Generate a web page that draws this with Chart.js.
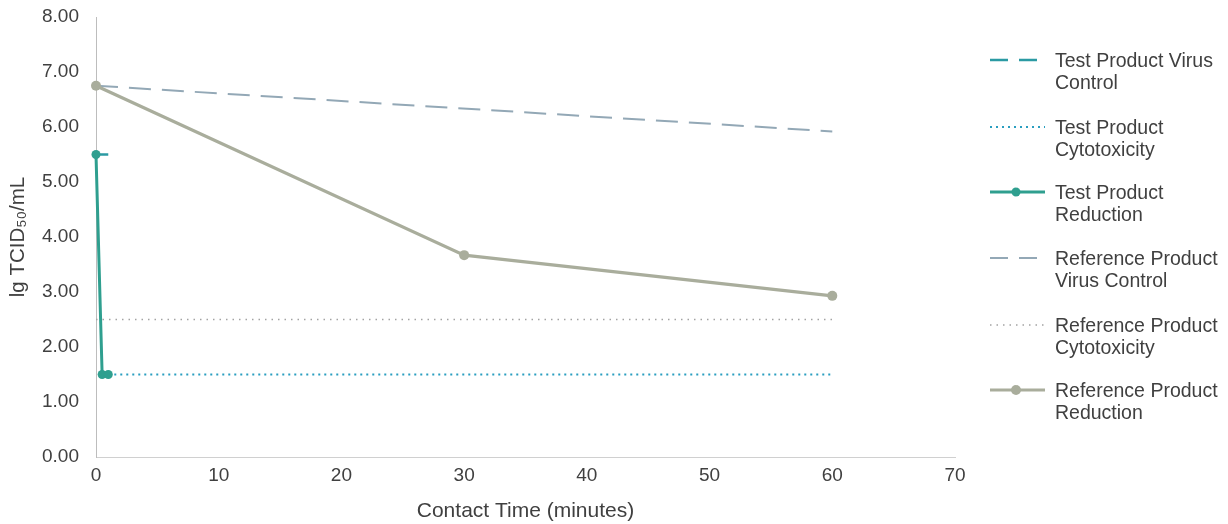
<!DOCTYPE html>
<html>
<head>
<meta charset="utf-8">
<script src="https://cdn.jsdelivr.net/npm/chart.js@4/dist/chart.umd.min.js"></script>
<style>
  html, body { margin: 0; padding: 0; background: #ffffff; }
  #wrap { position: relative; width: 1228px; height: 524px; overflow: hidden; }
  #chart { position: absolute; left: 0; top: 0; }
  #legend { position: absolute; left: 0; top: 0; width: 1228px; height: 524px; pointer-events: none;
            font-family: "Liberation Sans", Arial, sans-serif; font-size: 19.5px; color: #404040; }
  .item { position: absolute; left: 988px; width: 240px; }
  .item svg { position: absolute; left: 0; top: 0; }
  .item .txt { position: absolute; left: 67px; top: -11px; line-height: 22px; white-space: nowrap; }
</style>
</head>
<body>
<div id="wrap">
  <canvas id="chart" width="1228" height="524"></canvas>
  <div id="legend"></div>
</div>
<script>
// ---- data ----
const xTickLabels = ['0', '10', '20', '30', '40', '50', '60', '70'];
const yTickLabels = ['0.00', '1.00', '2.00', '3.00', '4.00', '5.00', '6.00', '7.00', '8.00'];

const seriesNames = [
  'Test Product Virus Control',
  'Test Product Cytotoxicity',
  'Test Product Reduction',
  'Reference Product Virus Control',
  'Reference Product Cytotoxicity',
  'Reference Product Reduction'
];

const testVirusControlTimes = [0, 1];
const testVirusControlValues = [5.50, 5.50];

const testCytotoxicityTimes = [1, 60];
const testCytotoxicityValues = [1.50, 1.50];

const testReductionTimes = [0, 0.5, 1];
const testReductionValues = [5.50, 1.50, 1.50];

const refVirusControlTimes = [0, 60];
const refVirusControlValues = [6.75, 5.92];

const refCytotoxicityTimes = [0, 60];
const refCytotoxicityValues = [2.50, 2.50];

const refReductionTimes = [0, 30, 60];
const refReductionValues = [6.75, 3.67, 2.93];

// ---- styles ----
const COL_TEST = '#2f9f8f';
const COL_TEST_VC = '#2b9aa3';
const COL_TEST_CYTO = '#2a9ec0';
const COL_REF_VC = '#93a8b6';
const COL_REF_CYTO = '#a3a3a3';
const COL_REF = '#a9ad9c';

function pts(xs, ys) { return xs.map((x, i) => ({ x: x, y: ys[i] })); }

const datasets = [
  { label: seriesNames[0], data: pts(testVirusControlTimes, testVirusControlValues),
    borderColor: COL_TEST_VC, borderWidth: 2.5, borderDash: [22, 11], pointRadius: 0, order: 2 },
  { label: seriesNames[1], data: pts(testCytotoxicityTimes, testCytotoxicityValues),
    borderColor: COL_TEST_CYTO, borderWidth: 2.2, borderDash: [2, 4], pointRadius: 0, order: 3 },
  { label: seriesNames[2], data: pts(testReductionTimes, testReductionValues),
    borderColor: COL_TEST, backgroundColor: COL_TEST, borderWidth: 3, pointRadius: 4.5,
    pointBorderWidth: 0, pointBackgroundColor: COL_TEST, order: 1 },
  { label: seriesNames[3], data: pts(refVirusControlTimes, refVirusControlValues),
    borderColor: COL_REF_VC, borderWidth: 2, borderDash: [22, 11], pointRadius: 0, order: 5 },
  { label: seriesNames[4], data: pts(refCytotoxicityTimes, refCytotoxicityValues),
    borderColor: COL_REF_CYTO, borderWidth: 1.5, borderDash: [1.5, 5], pointRadius: 0, order: 6 },
  { label: seriesNames[5], data: pts(refReductionTimes, refReductionValues),
    borderColor: COL_REF, backgroundColor: COL_REF, borderWidth: 3.2, pointRadius: 5,
    pointBorderWidth: 0, pointBackgroundColor: COL_REF, order: 4 }
];
datasets.forEach(d => { d.clip = false; });

const ctx = document.getElementById('chart').getContext('2d');
new Chart(ctx, {
  type: 'line',
  data: { datasets: datasets },
  options: {
    responsive: false,
    animation: false,
    layout: { padding: { left: 4, right: 273, top: 17, bottom: 0 } },
    plugins: { legend: { display: false }, tooltip: { enabled: false } },
    elements: { line: { tension: 0, fill: false } },
    scales: {
      x: {
        type: 'linear', min: 0, max: 70,
        afterBuildTicks: (s) => { s.ticks = xTickLabels.map(v => ({ value: Number(v) })); },
        ticks: { stepSize: 10, padding: 7, color: '#404040',
                 font: { family: 'Liberation Sans', size: 19 },
                 callback: (v) => xTickLabels[xTickLabels.indexOf(String(v))] ?? '' },
        grid: { display: false, drawTicks: false },
        border: { display: true, color: '#d0d0d0', width: 1, dash: [2, 2] },
        title: { display: true, text: 'Contact Time (minutes)', color: '#404040',
                 font: { family: 'Liberation Sans', size: 21 }, padding: { top: 1, bottom: 0 } },
        afterFit: (s) => { s.height = 67; s.paddingLeft = 0; s.paddingRight = 0; }
      },
      y: {
        type: 'linear', min: 0, max: 8,
        afterBuildTicks: (s) => { s.ticks = yTickLabels.map(v => ({ value: Number(v) })); },
        ticks: { stepSize: 1, padding: 17, color: '#404040',
                 font: { family: 'Liberation Sans', size: 19 },
                 callback: (v) => yTickLabels[Math.round(v)] },
        grid: { display: false, drawTicks: false },
        border: { display: true, color: '#bdbdbd', width: 1, dash: [2, 2] },
        title: { display: true, text: 'lg TCID\u2085\u2080/mL', color: '#404040',
                 font: { family: 'Liberation Sans', size: 20.5 }, padding: { top: 2, bottom: 0 } },
        afterFit: (s) => { s.width = 92; s.paddingTop = 0; s.paddingBottom = 0; }
      }
    }
  }
});

// ---- HTML legend (right side) ----
const legendTop = [60, 127, 192, 258, 325, 390];
const legendLines = [
  ['Test Product Virus', 'Control'],
  ['Test Product', 'Cytotoxicity'],
  ['Test Product', 'Reduction'],
  ['Reference Product', 'Virus Control'],
  ['Reference Product', 'Cytotoxicity'],
  ['Reference Product', 'Reduction']
];
const legendEl = document.getElementById('legend');
datasets.forEach((ds, i) => {
  const item = document.createElement('div');
  item.className = 'item';
  item.style.top = legendTop[i] + 'px';
  const dash = ds.borderDash ? ds.borderDash.join(',') : 'none';
  let marker = '';
  if (ds.pointRadius > 0) {
    marker = `<circle cx="28" cy="0" r="${ds.pointRadius}" fill="${ds.borderColor}"/>`;
  }
  const svg = `<svg width="60" height="14" viewBox="0 -7 60 14" style="top:-7px">
      <line x1="2" y1="0" x2="57" y2="0" stroke="${ds.borderColor}" stroke-width="${ds.borderWidth}"
        ${ds.borderDash ? `stroke-dasharray="${ds.borderDash[0] === 22 ? '18,11' : dash}"` : ''}/>
      ${marker}</svg>`;
  item.innerHTML = svg + `<div class="txt">${legendLines[i][0]}<br>${legendLines[i][1]}</div>`;
  legendEl.appendChild(item);
});
</script>
</body>
</html>
